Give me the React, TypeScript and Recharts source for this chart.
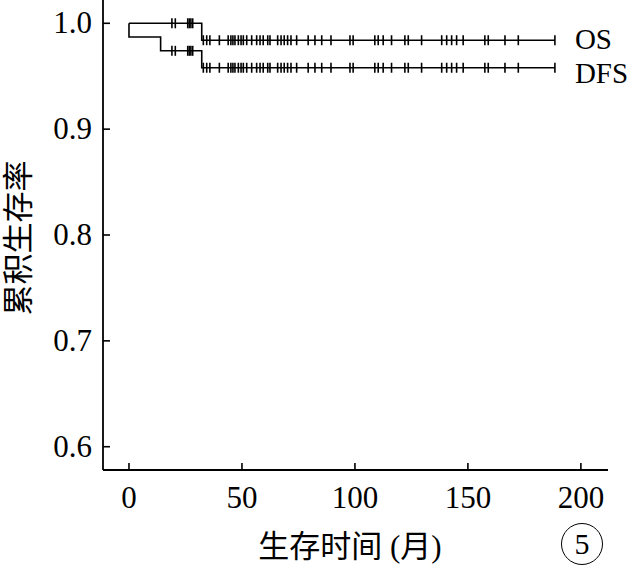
import { LineChart, Line, XAxis, YAxis } from "recharts";

// censored follow-up times (months), shared by both curves
const censorTimes = [
  19, 20.5, 26, 26.7, 27.4, 28.2, 32.9, 34.4, 35.8, 40, 43.9, 45.1, 46, 46.9,
  48.4, 49.6, 50.6, 52.1, 54.3, 56.5, 58, 59.4, 61.4, 62.4, 65.8, 67.3, 68.7,
  70.2, 71.7, 74.2, 79.3, 82.3, 85.3, 89.4, 97.8, 99.2, 108.8, 110.3, 112.5,
  116.2, 122.1, 123.6, 129.5, 138.4, 140.6, 142.8, 145, 147.9, 157.5, 159,
  166.4, 172.3, 188.5,
];

const osEventTimes = [32.2];
const osSurvival = [0.984];
const dfsEventTimes = [0, 14, 32.2];
const dfsSurvival = [0.987, 0.974, 0.958];

const xTicks = [0, 50, 100, 150, 200];
const yTicks = [0.6, 0.7, 0.8, 0.9, 1.0];

const SERIF = "'Liberation Serif', 'Times New Roman', serif";
const CJK = "'Liberation Serif', 'Noto Sans CJK SC', serif";

function survivalAt(times: number[], values: number[], t: number) {
  let s = 1;
  times.forEach((et, i) => {
    if (et <= t) s = values[i];
  });
  return s;
}

type Row = { t: number; os: number; dfs: number; censored: boolean };

const events = Array.from(new Set([...osEventTimes, ...dfsEventTimes]));
const rows: Row[] = [{ t: 0, os: 1, dfs: 1, censored: false }];
[
  ...events.map((t) => ({ t, censored: false })),
  ...censorTimes.map((t) => ({ t, censored: true })),
]
  .sort((a, b) => a.t - b.t)
  .forEach(({ t, censored }) => {
    rows.push({
      t,
      os: survivalAt(osEventTimes, osSurvival, t),
      dfs: survivalAt(dfsEventTimes, dfsSurvival, t),
      censored,
    });
  });

const CensorDot = (props: any) => {
  const { cx, cy, payload, key } = props;
  if (!payload.censored) return <g key={key} />;
  return (
    <line
      key={key}
      x1={cx}
      x2={cx}
      y1={cy - 5}
      y2={cy + 5}
      stroke="#000"
      strokeWidth={1.6}
    />
  );
};

const endLabel = (name: string, dy: number) => (props: any) => {
  const { x, y, index } = props;
  if (index !== rows.length - 1) return <g />;
  return (
    <text
      x={x + 20}
      y={y + dy}
      fontSize={29}
      fontFamily={SERIF}
      fill="#000"
    >
      {name}
    </text>
  );
};

const XTick = (props: any) => {
  const { x, y, payload } = props;
  return (
    <g>
      <line x1={x} x2={x} y1={y} y2={y - 7} stroke="#000" strokeWidth={1.6} />
      <text
        x={x}
        y={y + 38}
        textAnchor="middle"
        fontSize={31}
        fontFamily={SERIF}
        fill="#000"
      >
        {payload.value}
      </text>
    </g>
  );
};

const YTick = (props: any) => {
  const { x, y, payload } = props;
  return (
    <g>
      <line x1={x} x2={x + 7} y1={y} y2={y} stroke="#000" strokeWidth={1.6} />
      <text
        x={x - 11}
        y={y + 10}
        textAnchor="end"
        fontSize={31}
        fontFamily={SERIF}
        fill="#000"
      >
        {Number(payload.value).toFixed(1)}
      </text>
    </g>
  );
};

export default function App() {
  return (
    <div style={{ position: "absolute", left: 0, top: 0, width: 638, height: 570, background: "#fff" }}>
      <LineChart
        width={638}
        height={570}
        data={rows}
        margin={{ top: 0, right: 30, bottom: 0, left: 0 }}
      >
        <XAxis
          type="number"
          dataKey="t"
          domain={[-11.5, 212]}
          allowDataOverflow
          ticks={xTicks}
          interval={0}
          tickSize={0}
          tickMargin={0}
          height={100}
          axisLine={{ stroke: "#000", strokeWidth: 1.8 }}
          tick={XTick}
          label={() => (
            <text
              x={350}
              y={557}
              textAnchor="middle"
              fontSize={31}
              fontFamily={CJK}
              fill="#000"
            >
              生存时间 (月)
            </text>
          )}
        />
        <YAxis
          type="number"
          domain={[0.578, 1.022]}
          allowDataOverflow
          ticks={yTicks}
          interval={0}
          tickSize={0}
          tickMargin={0}
          width={103}
          axisLine={{ stroke: "#000", strokeWidth: 1.8 }}
          tick={YTick}
          label={() => (
            <text
              x={29}
              y={238}
              transform="rotate(-90, 29, 238)"
              textAnchor="middle"
              fontSize={31}
              fontFamily={CJK}
              fill="#000"
            >
              累积生存率
            </text>
          )}
        />
        <Line
          type="stepAfter"
          dataKey="os"
          stroke="#000"
          strokeWidth={1.6}
          dot={CensorDot}
          activeDot={false}
          label={endLabel("OS", 9)}
          isAnimationActive={false}
        />
        <Line
          type="stepAfter"
          dataKey="dfs"
          stroke="#000"
          strokeWidth={1.6}
          dot={CensorDot}
          activeDot={false}
          label={endLabel("DFS", 15)}
          isAnimationActive={false}
        />
      </LineChart>
      <div
        style={{
          position: "absolute",
          left: 561,
          top: 523,
          width: 42,
          height: 42,
          border: "1.6px solid #000",
          borderRadius: "50%",
          boxSizing: "border-box",
          display: "flex",
          alignItems: "center",
          justifyContent: "center",
          fontFamily: SERIF,
          fontSize: 30,
          lineHeight: 1,
          color: "#000",
        }}
      >
        5
      </div>
    </div>
  );
}
